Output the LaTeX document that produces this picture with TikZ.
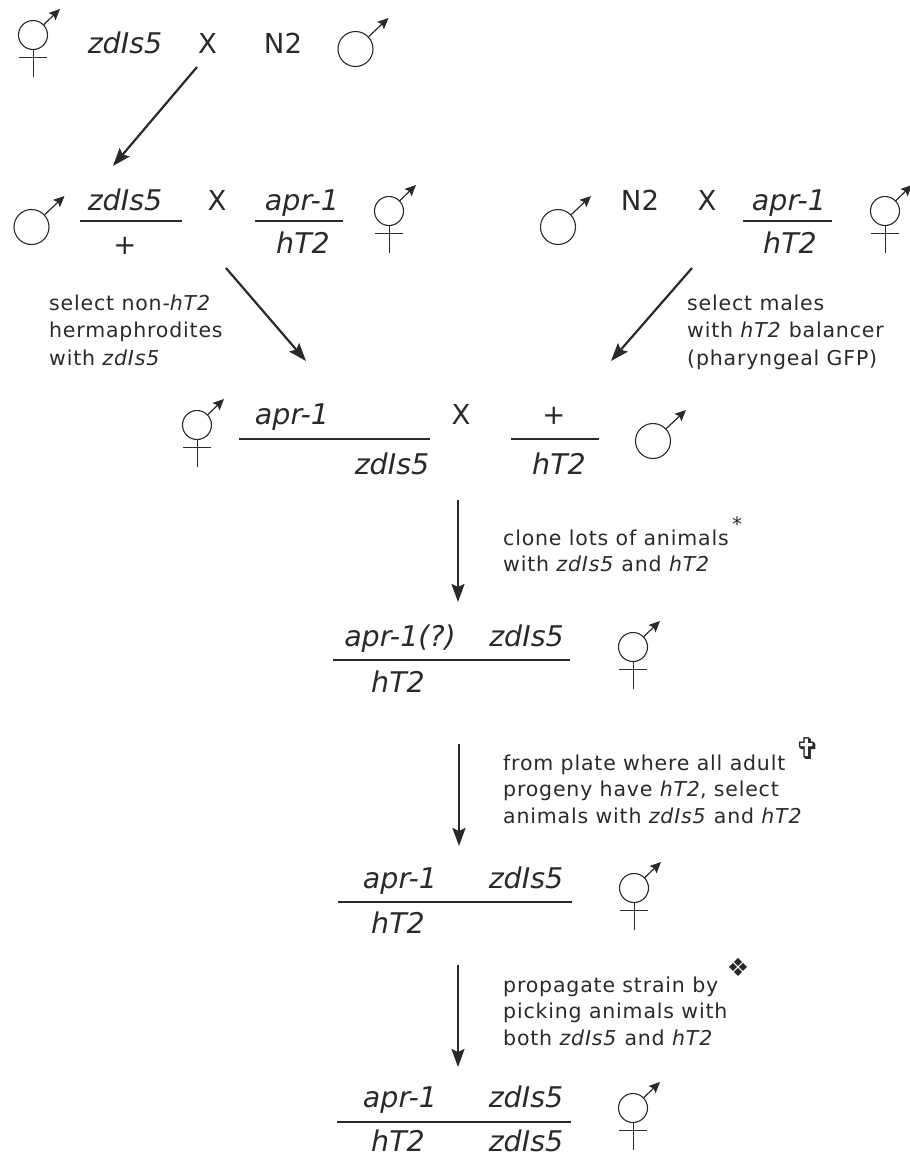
\documentclass[tikz,border=0pt]{standalone}
\usepackage{fontspec}
\setmainfont{DejaVu Sans}
\newfontfamily\notefont[LetterSpace=4]{DejaVu Sans}
\usepackage{xcolor}
\usetikzlibrary{arrows.meta, positioning}
\definecolor{ink}{HTML}{2A2A2A}
\tikzset{
    gene/.style={anchor=base, inner sep=0pt, text=ink, font=\fontsize{28.5}{28.5}\selectfont\itshape},
    sign/.style={gene, font=\fontsize{27.5}{27.5}\selectfont},
    note/.style={anchor=north west, inner sep=0pt, text=ink, align=left, font=\fontsize{20.5}{26.4}\selectfont\notefont},
    glyph/.style={inner sep=0pt, text=ink, font=\fontsize{#1}{#1}\selectfont},
    arr/.style={-{Stealth[length=18pt, width=13pt, inset=3pt]}, line width=2.2pt, draw=ink},
    bar/.style={line width=1.7pt, draw=ink},
    ball/.style={circle, draw=ink, line width=1.1pt, minimum size=#1, inner sep=0pt},
    sexarr/.style={-{Stealth[length=11pt, width=10pt, inset=2pt]}, line width=1.2pt, draw=ink},
    pics/male/.style={code={
        \node[ball=35pt] (-c) at (0,0) {};
        \coordinate (-t) at (33,-31);
        \draw[sexarr] (-c) -- (-t);
    }},
    pics/herm/.style={code={
        \node[ball=29pt] (-c) at (0,0) {};
        \coordinate (-t) at (27,-26);
        \coordinate (-b) at (0,42);
        \coordinate (-l) at (-14,22);
        \coordinate (-r) at (14,22);
        \draw[sexarr] (-c) -- (-t);
        \draw[ink, line width=0.9pt] (-c) -- (-b) (-l) -- (-r);
    }}
}
\begin{document}
\begin{tikzpicture}[x=1pt, y=-1pt]
    \useasboundingbox (0,0) rectangle (910,1157);

    % first cross
    \pic (h1) at (33,35) {herm};
    \node[gene] (g1) at (125,53) {zdIs5};
    \node[sign] (x1) at (207.5,53) {X};
    \node[sign] (n1) at (283,53) {N2};
    \pic (m1) at (355.5,49) {male};
    \coordinate (s1) at (197,67);
    \coordinate (a1) at (113,166);
    \draw[arr] (s1) -- (a1);

    % left and right crosses
    \pic (m2) at (31.5,227) {male};
    \node[gene] (g2) at (125,210) {zdIs5};
    \coordinate (l2a) at (80,221);
    \coordinate (l2b) at (182,221);
    \draw[bar] (l2a) -- (l2b);
    \node[sign] (p2) at (125,254) {+};
    \node[sign] (x2) at (217,210) {X};
    \node[gene] (g3) at (302,210) {apr-1};
    \coordinate (l3a) at (255,221);
    \coordinate (l3b) at (343,221);
    \draw[bar] (l3a) -- (l3b);
    \node[gene] (b3) at (303,253) {hT2};
    \pic (h2) at (389,211) {herm};

    \pic (m3) at (558,227) {male};
    \node[sign] (n3) at (640,210) {N2};
    \node[sign] (x3) at (707,210) {X};
    \node[gene] (g4) at (789,210) {apr-1};
    \coordinate (l4a) at (743,221);
    \coordinate (l4b) at (832,221);
    \draw[bar] (l4a) -- (l4b);
    \node[gene] (b4) at (790,253) {hT2};
    \pic (h3) at (885,211) {herm};

    \coordinate (s2) at (226,268);
    \coordinate (a2) at (306,361);
    \draw[arr] (s2) -- (a2);
    \coordinate (s3) at (692,268);
    \coordinate (a3) at (611,361);
    \draw[arr] (s3) -- (a3);
    \node[note] (t2) at (49,294.5) {select non-\textit{hT2}\\[1pt]hermaphrodites\\[1pt]with \textit{zdIs5}};
    \node[note] (t3) at (687,294.5) {select males\\[1pt]with \textit{hT2} balancer\\[1pt](pharyngeal GFP)};

    % third cross
    \pic (h4) at (197,425) {herm};
    \node[gene] (g5) at (292,424) {apr-1};
    \coordinate (l5a) at (239,439);
    \coordinate (l5b) at (430,439);
    \draw[bar] (l5a) -- (l5b);
    \node[gene] (z5) at (392,474) {zdIs5};
    \node[sign] (x5) at (461,424) {X};
    \node[sign] (p5) at (554,424) {+};
    \coordinate (l6a) at (511,439);
    \coordinate (l6b) at (599,439);
    \draw[bar] (l6a) -- (l6b);
    \node[gene] (b6) at (559,474) {hT2};
    \pic (m4) at (653,441) {male};

    \coordinate (s4) at (458,500);
    \coordinate (a4) at (458,602);
    \draw[arr] (s4) -- (a4);
    \node[note] (t4) at (503,529.5) {clone lots of animals\\with \textit{zdIs5} and \textit{hT2}};
    \node[glyph=20] (k4) at (737,524) {*};

    % fourth row
    \node[gene] (g7) at (400,646) {apr-1(?)};
    \node[gene] (z7) at (526.5,646) {zdIs5};
    \coordinate (l7a) at (333,660);
    \coordinate (l7b) at (570,660);
    \draw[bar] (l7a) -- (l7b);
    \node[gene] (b7) at (398,692) {hT2};
    \pic (h5) at (633,647) {herm};

    \coordinate (s5) at (459,744);
    \coordinate (a5) at (459,846);
    \draw[arr] (s5) -- (a5);
    \node[note] (t5) at (503,754.5) {from plate where all adult\\progeny have \textit{hT2}, select\\animals with \textit{zdIs5} and \textit{hT2}};
    \node[glyph=30] (k5) at (808,749) {✞};

    % fifth row
    \node[gene] (g8) at (400,888) {apr-1};
    \node[gene] (z8) at (526,888) {zdIs5};
    \coordinate (l8a) at (338,902);
    \coordinate (l8b) at (572,902);
    \draw[bar] (l8a) -- (l8b);
    \node[gene] (b8) at (398,933) {hT2};
    \pic (h6) at (634,888) {herm};

    \coordinate (s6) at (458,965);
    \coordinate (a6) at (458,1067);
    \draw[arr] (s6) -- (a6);
    \node[note] (t6) at (503,976.5) {propagate strain by\\picking animals with\\both \textit{zdIs5} and \textit{hT2}};
    \node[glyph=25] (k6) at (738,967) {❖};

    % last row
    \node[gene] (g9) at (400,1107) {apr-1};
    \node[gene] (z9) at (526,1107) {zdIs5};
    \coordinate (l9a) at (337,1122);
    \coordinate (l9b) at (571,1122);
    \draw[bar] (l9a) -- (l9b);
    \node[gene] (b9) at (398,1151) {hT2};
    \node[gene] (y9) at (526,1151) {zdIs5};
    \pic (h7) at (633,1108) {herm};
\end{tikzpicture}
\end{document}
